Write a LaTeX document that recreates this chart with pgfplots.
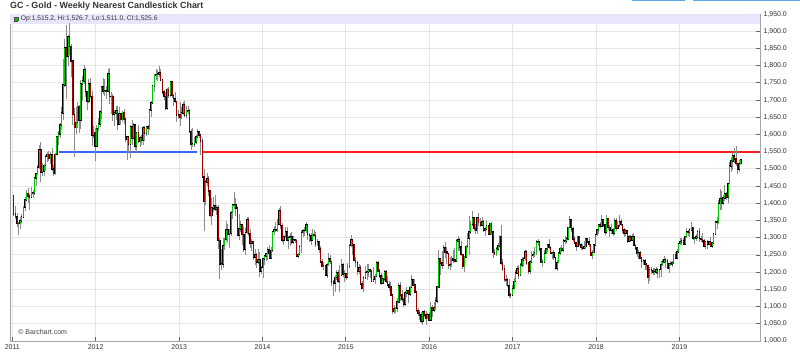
\documentclass[border=0pt]{standalone}
\usepackage{fontspec}
\setmainfont{Liberation Sans}
\usepackage{pgfplots}
\usepackage{pgfplotstable}
\pgfplotsset{compat=1.18}
\definecolor{upc}{RGB}{0,200,0}
\definecolor{dnc}{RGB}{165,0,0}
\definecolor{wickc}{RGB}{140,140,140}
\definecolor{gridc}{RGB}{230,230,230}
\definecolor{axisc}{RGB}{165,165,165}
\definecolor{labc}{RGB}{51,51,51}
\definecolor{bandc}{RGB}{232,230,250}
\definecolor{bluec}{RGB}{60,100,255}
\definecolor{redc}{RGB}{255,30,30}
\definecolor{btnc}{RGB}{90,170,235}
\definecolor{pricec}{RGB}{245,194,107}
\pgfplotstableread{
o h l c
1421 1424 1363 1369
1369 1393 1355 1361
1361 1372 1330 1342
1342 1347 1309 1341
1341 1360 1324 1349
1349 1368 1343 1360
1360 1391 1356 1388
1388 1418 1378 1409
1409 1440 1408 1429
1429 1445 1400 1421
1421 1428 1381 1419
1419 1447 1415 1429
1429 1440 1415 1430
1430 1476 1425 1474
1474 1487 1450 1486
1486 1511 1481 1504
1504 1569 1499 1556
1556 1577 1462 1491
1491 1517 1480 1493
1493 1514 1480 1510
1510 1540 1493 1536
1536 1549 1520 1542
1542 1551 1522 1530
1530 1549 1515 1540
1540 1562 1495 1500
1500 1511 1478 1486
1486 1545 1483 1542
1542 1597 1540 1594
1594 1611 1570 1601
1601 1633 1590 1628
1628 1681 1614 1663
1663 1818 1641 1744
1744 1877 1738 1852
1852 1917 1702 1828
1828 1889 1800 1884
1884 1923 1832 1856
1856 1862 1766 1813
1813 1815 1627 1658
1658 1677 1535 1620
1620 1680 1600 1635
1635 1695 1620 1682
1682 1686 1604 1642
1642 1757 1617 1747
1747 1770 1697 1756
1756 1803 1746 1788
1788 1793 1710 1725
1725 1727 1670 1696
1696 1761 1692 1746
1746 1764 1705 1711
1711 1726 1566 1598
1598 1624 1590 1606
1606 1620 1523 1566
1566 1628 1565 1617
1617 1649 1610 1631
1631 1672 1622 1666
1666 1741 1646 1739
1739 1764 1718 1725
1725 1761 1712 1726
1726 1741 1704 1725
1725 1790 1722 1775
1775 1792 1688 1710
1710 1722 1660 1711
1711 1718 1640 1659
1659 1672 1626 1662
1662 1684 1643 1669
1669 1683 1612 1631
1631 1680 1627 1659
1659 1662 1627 1643
1643 1668 1636 1664
1664 1675 1630 1645
1645 1647 1577 1585
1585 1597 1527 1592
1592 1595 1548 1573
1573 1628 1532 1622
1622 1642 1570 1590
1590 1632 1586 1628
1628 1630 1556 1566
1566 1606 1547 1604
1604 1627 1576 1579
1579 1596 1565 1591
1591 1598 1570 1584
1584 1626 1568 1619
1619 1624 1582 1604
1604 1626 1596 1622
1622 1627 1598 1617
1617 1675 1614 1671
1671 1696 1651 1691
1691 1743 1689 1741
1741 1777 1722 1772
1772 1790 1758 1774
1774 1788 1754 1776
1776 1798 1766 1780
1780 1789 1755 1758
1758 1761 1718 1724
1724 1728 1700 1711
1711 1722 1672 1676
1676 1736 1671 1731
1731 1738 1705 1714
1714 1755 1708 1752
1752 1754 1705 1713
1713 1718 1684 1704
1704 1723 1690 1696
1696 1698 1636 1657
1657 1672 1645 1656
1656 1694 1626 1649
1649 1680 1645 1662
1662 1695 1656 1687
1687 1696 1652 1657
1657 1684 1649 1667
1667 1684 1660 1668
1668 1675 1603 1609
1609 1617 1555 1572
1572 1619 1565 1573
1573 1592 1563 1577
1577 1598 1572 1592
1592 1616 1590 1607
1607 1610 1590 1598
1598 1600 1540 1581
1581 1590 1473 1477
1477 1500 1321 1405
1405 1469 1395 1462
1462 1488 1450 1470
1470 1478 1422 1436
1436 1440 1359 1364
1364 1415 1338 1386
1386 1417 1374 1392
1392 1425 1378 1383
1383 1396 1366 1387
1387 1395 1268 1292
1292 1298 1180 1223
1223 1267 1207 1224
1224 1298 1211 1277
1277 1298 1265 1295
1295 1348 1290 1322
1322 1340 1285 1310
1310 1325 1270 1313
1313 1378 1304 1373
1373 1397 1355 1395
1395 1434 1383 1396
1396 1414 1363 1386
1386 1387 1305 1308
1308 1370 1292 1325
1325 1349 1316 1337
1337 1338 1280 1309
1309 1330 1260 1268
1268 1327 1251 1315
1315 1361 1311 1352
1352 1361 1304 1313
1313 1325 1270 1284
1284 1295 1262 1287
1287 1289 1236 1244
1244 1267 1221 1250
1250 1256 1211 1229
1229 1267 1224 1235
1235 1258 1185 1203
1203 1218 1195 1213
1213 1240 1182 1238
1238 1251 1221 1247
1247 1256 1232 1254
1254 1272 1235 1264
1264 1280 1239 1240
1240 1272 1238 1263
1263 1320 1260 1318
1318 1333 1309 1323
1323 1346 1318 1321
1321 1355 1318 1339
1339 1385 1336 1379
1379 1392 1325 1336
1336 1342 1289 1294
1294 1309 1278 1303
1303 1331 1299 1318
1318 1330 1291 1294
1294 1305 1268 1300
1300 1315 1277 1302
1302 1316 1283 1288
1288 1306 1283 1293
1293 1296 1285 1292
1292 1297 1245 1246
1246 1255 1240 1252
1252 1279 1249 1274
1274 1323 1255 1315
1315 1326 1303 1320
1320 1332 1306 1321
1321 1346 1314 1337
1337 1339 1292 1310
1310 1315 1287 1307
1307 1313 1280 1294
1294 1324 1290 1310
1310 1322 1301 1306
1306 1316 1273 1280
1280 1296 1275 1287
1287 1291 1256 1267
1267 1275 1226 1229
1229 1239 1214 1216
1216 1229 1207 1218
1218 1222 1190 1192
1192 1228 1183 1222
1222 1255 1219 1239
1239 1250 1225 1231
1231 1232 1160 1172
1172 1177 1131 1169
1169 1193 1142 1185
1185 1207 1176 1197
1197 1206 1168 1175
1175 1221 1142 1191
1191 1238 1189 1222
1222 1226 1187 1195
1195 1205 1170 1196
1196 1199 1176 1186
1186 1227 1185 1217
1217 1282 1212 1277
1277 1307 1272 1293
1293 1296 1250 1279
1279 1281 1232 1234
1234 1245 1216 1228
1228 1232 1191 1204
1204 1223 1195 1213
1213 1220 1163 1165
1165 1175 1150 1152
1152 1190 1142 1183
1183 1219 1180 1199
1199 1224 1178 1201
1201 1225 1186 1207
1207 1209 1183 1203
1203 1207 1170 1175
1175 1214 1170 1178
1178 1196 1167 1188
1188 1232 1186 1226
1226 1231 1201 1204
1204 1210 1183 1189
1189 1198 1162 1168
1168 1193 1166 1180
1180 1205 1173 1201
1201 1205 1169 1173
1173 1189 1161 1163
1163 1174 1146 1157
1157 1170 1131 1133
1133 1136 1077 1085
1085 1104 1078 1094
1094 1100 1080 1095
1095 1126 1084 1113
1113 1168 1112 1160
1160 1170 1117 1134
1134 1148 1112 1121
1121 1125 1098 1108
1108 1144 1102 1139
1139 1157 1127 1145
1145 1148 1111 1137
1137 1161 1132 1156
1156 1191 1153 1177
1177 1178 1159 1163
1163 1180 1140 1142
1142 1143 1085 1088
1088 1096 1074 1081
1081 1089 1062 1076
1076 1084 1052 1057
1057 1088 1046 1084
1084 1089 1070 1076
1076 1088 1047 1065
1065 1081 1064 1076
1076 1085 1058 1060
1060 1113 1058 1098
1098 1105 1071 1090
1090 1112 1084 1097
1097 1128 1091 1116
1116 1160 1111 1157
1157 1263 1155 1239
1239 1240 1191 1227
1227 1262 1208 1221
1221 1280 1218 1271
1271 1287 1241 1259
1259 1274 1225 1254
1254 1256 1208 1220
1220 1245 1206 1222
1222 1246 1216 1240
1240 1264 1226 1235
1235 1271 1230 1231
1231 1295 1230 1290
1290 1306 1262 1294
1294 1298 1261 1273
1273 1290 1246 1252
1252 1254 1209 1216
1216 1248 1200 1243
1243 1280 1240 1275
1275 1315 1270 1298
1298 1362 1251 1316
1316 1350 1310 1339
1339 1377 1334 1358
1358 1359 1320 1327
1327 1340 1312 1321
1321 1360 1312 1357
1357 1372 1333 1344
1344 1356 1331 1337
1337 1361 1336 1345
1345 1351 1318 1323
1323 1331 1305 1326
1326 1352 1322 1334
1334 1335 1307 1310
1310 1344 1309 1342
1342 1345 1309 1317
1317 1319 1241 1257
1257 1268 1250 1251
1251 1272 1248 1267
1267 1284 1262 1276
1276 1308 1275 1304
1304 1338 1220 1226
1226 1238 1204 1209
1209 1220 1171 1178
1178 1191 1160 1177
1177 1182 1157 1161
1161 1179 1124 1134
1134 1139 1125 1133
1133 1163 1130 1152
1152 1182 1147 1173
1173 1207 1171 1197
1197 1219 1195 1210
1210 1220 1180 1191
1191 1226 1188 1221
1221 1245 1215 1235
1235 1245 1218 1239
1239 1264 1232 1258
1258 1263 1222 1226
1226 1229 1196 1203
1203 1234 1196 1230
1230 1261 1228 1249
1249 1262 1241 1251
1251 1274 1244 1257
1257 1292 1250 1288
1288 1297 1276 1289
1289 1291 1262 1268
1268 1270 1226 1228
1228 1237 1214 1229
1229 1264 1227 1254
1254 1270 1252 1268
1268 1283 1260 1280
1280 1296 1267 1271
1271 1277 1252 1256
1256 1260 1238 1257
1257 1263 1236 1242
1242 1245 1207 1212
1212 1234 1204 1228
1228 1257 1227 1255
1255 1274 1250 1269
1269 1279 1258 1264
1264 1295 1258 1290
1290 1306 1281 1291
1291 1301 1284 1297
1297 1332 1294 1330
1330 1362 1328 1351
1351 1352 1316 1325
1325 1330 1289 1297
1297 1305 1281 1284
1284 1286 1262 1275
1275 1306 1273 1304
1304 1306 1276 1280
1280 1284 1263 1272
1272 1283 1263 1269
1269 1291 1266 1274
1274 1299 1268 1296
1296 1300 1284 1288
1288 1301 1273 1281
1281 1283 1246 1248
1248 1263 1237 1257
1257 1280 1256 1279
1279 1311 1277 1309
1309 1326 1306 1322
1322 1341 1310 1337
1337 1346 1327 1333
1333 1366 1330 1352
1352 1355 1331 1337
1337 1340 1307 1316
1316 1365 1311 1356
1356 1357 1322 1330
1330 1337 1303 1323
1323 1341 1312 1324
1324 1329 1306 1313
1313 1356 1307 1349
1349 1356 1321 1327
1327 1349 1325 1336
1336 1366 1330 1347
1347 1354 1334 1338
1338 1340 1315 1323
1323 1329 1303 1314
1314 1326 1305 1320
1320 1323 1285 1291
1291 1309 1288 1303
1303 1308 1288 1294
1294 1310 1291 1302
1302 1313 1276 1278
1278 1283 1263 1270
1270 1273 1245 1254
1254 1265 1238 1255
1255 1262 1237 1241
1241 1244 1211 1231
1231 1237 1220 1232
1232 1238 1207 1223
1223 1224 1206 1219
1219 1221 1167 1184
1184 1215 1175 1206
1206 1215 1195 1205
1205 1213 1191 1199
1199 1212 1193 1201
1201 1214 1195 1207
1207 1212 1182 1196
1196 1209 1183 1207
1207 1233 1185 1222
1222 1237 1218 1229
1229 1246 1226 1236
1236 1242 1211 1233
1233 1239 1208 1210
1210 1227 1198 1223
1223 1231 1219 1224
1224 1232 1215 1226
1226 1253 1223 1252
1252 1259 1238 1241
1241 1267 1239 1258
1258 1285 1257 1283
1283 1300 1280 1287
1287 1299 1280 1290
1290 1298 1279 1282
1282 1305 1278 1303
1303 1327 1300 1318
1318 1323 1306 1317
1317 1327 1303 1322
1322 1347 1320 1330
1330 1331 1294 1298
1298 1300 1281 1299
1299 1312 1291 1302
1302 1322 1297 1316
1316 1327 1288 1298
1298 1306 1287 1295
1295 1315 1286 1291
1291 1296 1272 1276
1276 1290 1266 1288
1288 1292 1267 1281
1281 1291 1278 1287
1287 1303 1275 1276
1276 1289 1270 1284
1284 1313 1281 1311
1311 1349 1310 1346
1346 1361 1324 1344
1344 1411 1341 1399
1399 1442 1381 1413
1413 1436 1382 1400
1400 1425 1395 1416
1416 1453 1407 1427
1427 1433 1410 1419
1419 1460 1400 1457
1457 1519 1455 1509
1509 1535 1492 1523
1523 1546 1498 1537
1537 1560 1517 1529
1529 1566 1509 1515
1515 1518 1485 1499
1499 1527 1492 1515.2
1515.2 1526.7 1511.0 1525.6
}\gold
\begin{document}
\begin{tikzpicture}
\path[use as bounding box] (0,0) rectangle (800bp,360bp);
\fill[btnc] (632bp,358.8bp) rectangle (685bp,360bp);
\fill[btnc] (693bp,358.8bp) rectangle (800bp,360bp);
\node[anchor=base west, inner sep=0pt, text=labc, font=\fontsize{8.9bp}{10bp}\selectfont\bfseries] at (10bp,351.3bp) {GC - Gold - Weekly Nearest Candlestick Chart};
\begin{axis}[
  at={(10bp,19bp)}, anchor=south west,
  scale only axis, width=750bp, height=327bp,
  xmin=-2.3, xmax=467, ymin=1000, ymax=1950,
  xtick={-0.857,51.286,103.571,155.714,207.857,260,312.286,364.429,416.571},
  xticklabels={2011,2012,2013,2014,2015,2016,2017,2018,2019},
  ytick={1000,1050,...,1950},
  yticklabel pos=right, ytick pos=right, xtick pos=bottom,
  tick align=inside, major tick length=4bp,
  grid=major, major grid style={draw=gridc, line width=0.9bp},
  axis line style={draw=axisc, line width=1bp},
  tick style={draw=gray!80!black, line width=0.8bp},
  ticklabel style={font=\fontsize{7bp}{8bp}\selectfont, text=labc},
  /pgf/number format/assume math mode=true,
  yticklabel style={/pgf/number format/.cd, fixed, fixed zerofill, precision=1, 1000 sep={,}},
  candle/.style={draw=none, mark=none, forget plot},
]
\fill[bandc] (axis cs:-2.3,1922) rectangle (axis cs:467,1949.5);
\addplot[draw=bluec, line width=1.8bp, forget plot] coordinates {(28.4,1550) (114.7,1550)};
\addplot[draw=redc, line width=1.8bp, forget plot] coordinates {(118.5,1550) (467,1550)};
% wicks
\addplot[candle,
  error bars/.cd, y dir=plus, y explicit, error mark=none,
  error bar style={draw=wickc, line width=0.7bp}]
  table[x expr=\coordindex, y=l, y error plus expr={\thisrow{h}-\thisrow{l}}] {\gold};
% body outlines
\addplot[candle,
  error bars/.cd, y dir=plus, y explicit, error mark=none,
  error bar style={draw=black, line width=1.5bp, line cap=rect}]
  table[x expr=\coordindex, y expr={min(\thisrow{o},\thisrow{c})}, y error plus expr={abs(\thisrow{c}-\thisrow{o})}] {\gold};
% up bodies
\addplot[candle,
  restrict expr to domain={\thisrow{c}-\thisrow{o}}{0.001:10000},
  error bars/.cd, y dir=plus, y explicit, error mark=none,
  error bar style={draw=upc, line width=0.7bp}]
  table[x expr=\coordindex, y=o, y error plus expr={\thisrow{c}-\thisrow{o}}] {\gold};
% down bodies
\addplot[candle,
  restrict expr to domain={\thisrow{o}-\thisrow{c}}{0.001:10000},
  error bars/.cd, y dir=plus, y explicit, error mark=none,
  error bar style={draw=dnc, line width=0.7bp}]
  table[x expr=\coordindex, y=c, y error plus expr={\thisrow{o}-\thisrow{c}}] {\gold};
\node[anchor=west, inner sep=0pt, font=\fontsize{6.7bp}{8bp}\selectfont, text=labc] at (axis cs:-0.2,1935.5) {\fboxsep=0pt\fboxrule=0.4bp\fcolorbox{black!70}{upc}{\rule{0pt}{3.6bp}\hspace{3.6bp}}\hspace{3bp}Op:1,515.2, Hi:1,526.7, Lo:1,511.0, Cl:1,525.6};
\node[anchor=west, inner sep=0pt, font=\fontsize{7bp}{8bp}\selectfont, text=black!75] at (axis cs:2.8,1025) {\textcopyright\ Barchart.com};
\node[anchor=west, fill=black, text=pricec, inner xsep=1.2bp, inner ysep=0.8bp, font=\fontsize{6.6bp}{7bp}\selectfont, xshift=1.5bp] at (axis cs:467,1525.6) {1,525.6};
\end{axis}
\end{tikzpicture}
\end{document}
